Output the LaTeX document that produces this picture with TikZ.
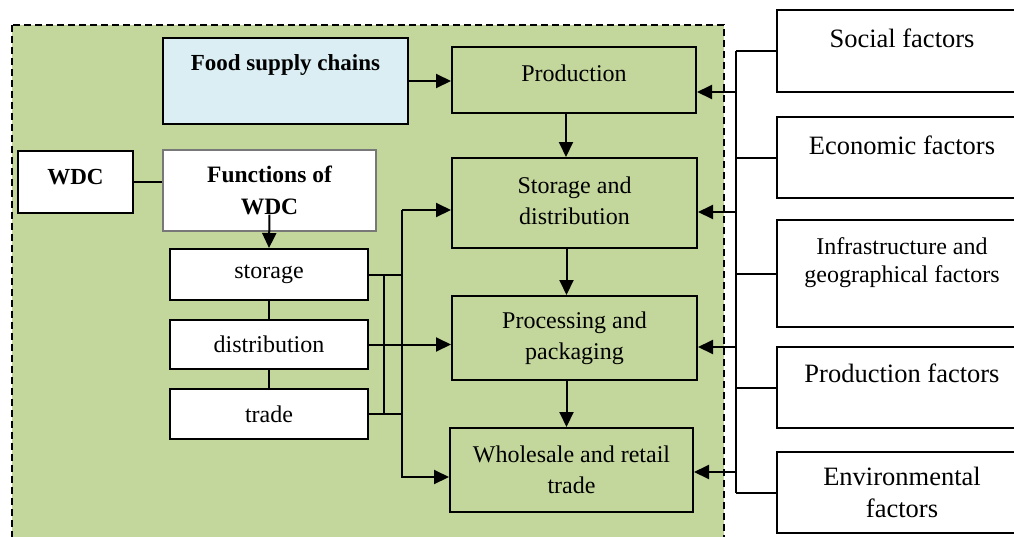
\documentclass[tikz,border=0pt]{standalone}
\usepackage{fontspec}
\setmainfont{Liberation Serif}
\usepackage{xcolor}
\usepackage{tikz}
\usetikzlibrary{shapes,arrows.meta,positioning,calc}
\definecolor{chaingreen}{RGB}{195,214,155}
\definecolor{chainblue}{RGB}{218,238,243}
\definecolor{fnborder}{RGB}{120,120,120}

\begin{document}
\begin{tikzpicture}[x=1pt, y=-1pt,
    gbox/.style={rectangle, draw, line width=2pt, fill=chaingreen, align=center, font=\fontsize{24}{31}\selectfont},
    wbox/.style={rectangle, draw, line width=2pt, fill=white, align=center, font=\fontsize{24}{31}\selectfont},
    fbox/.style={rectangle, draw, line width=2pt, fill=white, align=center, minimum width=250pt, font=\fontsize{26.5}{32}\selectfont},
    lift/.style={text depth=#1},
    link/.style={line width=2pt},
    arr/.style={line width=2pt, -{Triangle[length=15pt,width=14pt]}}]
        \useasboundingbox (0,0) rectangle (1014,536);
        \draw[fill=chaingreen, line width=2pt, dash pattern=on 7pt off 4pt] (12,25) rectangle (724,560);

        % chain of the food supply
        \node[gbox, minimum width=244pt, minimum height=66pt, lift=14pt] (prod) at (574,80) {Production};
        \node[gbox, minimum width=245pt, minimum height=90pt, lift=4pt] (sd) at (574.5,203) {Storage and\\distribution};
        \node[gbox, minimum width=245pt, minimum height=84pt] (pp) at (574.5,338) {Processing and\\packaging};
        \node[gbox, minimum width=243pt, minimum height=84pt] (wr) at (571.5,470) {Wholesale and retail\\trade};

        \node[rectangle, draw, line width=2.8pt, fill=chainblue, minimum width=245pt, minimum height=86pt, lift=36pt, font=\fontsize{23}{28}\selectfont\bfseries] (fsc) at (285.5,81) {Food supply chains};

        % warehouse and distribution centre
        \node[wbox, minimum width=115pt, minimum height=62pt, lift=10pt, font=\fontsize{23}{28}\selectfont\bfseries] (wdc) at (75.5,182) {WDC};
        \node[wbox, draw=fnborder, line width=1.2pt, minimum width=213pt, minimum height=81pt, font=\fontsize{23.5}{32}\selectfont\bfseries] (fn) at (269.5,190.5) {Functions of\\WDC};
        \node[wbox, minimum width=198pt, minimum height=51pt] (st) at (269,274.5) {storage};
        \node[wbox, minimum width=198pt, minimum height=49pt] (di) at (269,344.5) {distribution};
        \node[wbox, minimum width=198pt, minimum height=50pt] (tr) at (269,414) {trade};

        % factors
        \node[fbox, minimum height=82pt, lift=26pt] (soc) at (902,51) {Social factors};
        \node[fbox, minimum height=81pt, lift=25pt] (eco) at (902,157.5) {Economic factors};
        \node[fbox, minimum height=107pt, lift=27pt, font=\fontsize{24}{28}\selectfont] (inf) at (902,273.5) {Infrastructure and\\geographical factors};
        \node[fbox, minimum height=81pt, lift=29pt] (prf) at (902,387.5) {Production factors};
        \node[fbox, minimum height=81pt] (env) at (902,492.5) {Environmental\\factors};

        \coordinate (inbus) at (384,0);
        \coordinate (outbus) at (402,0);
        \coordinate (fbus) at (736,0);

        \draw[arr] (fsc.east) -- (fsc.east -| prod.west);
        \draw[arr] ([xshift=-8pt]prod.south) -- ([xshift=-8pt]prod.south |- sd.north);
        \draw[arr] ([xshift=-8pt]sd.south) -- ([xshift=-8pt]sd.south |- pp.north);
        \draw[arr] ([xshift=-8pt]pp.south) -- ([xshift=-8pt]pp.south |- wr.north);

        \draw[link] (wdc.east) -- (wdc.east -| fn.west);
        \draw[arr] ([yshift=17pt]fn.south) -- (st.north);
        \draw[link] (st) -- (di);
        \draw[link] (di) -- (tr);

        \draw[link] (st.east) -- (st.east -| outbus);
        \draw[link] (tr.east) -- (tr.east -| outbus);
        \draw[link] (st.east -| inbus) -- (tr.east -| inbus);
        \draw[arr] (di.east) -- (di.east -| pp.west);
        \draw[arr] ([yshift=-7pt]sd.west -| outbus) -- ([yshift=-7pt]sd.west);
        \draw[arr] ([yshift=-7pt]sd.west -| outbus) |- ([yshift=-7pt]wr.west);

        \draw[link] (soc.west) -- (soc.west -| fbus);
        \draw[link] (eco.west) -- (eco.west -| fbus);
        \draw[link] (inf.west) -- (inf.west -| fbus);
        \draw[link] (prf.west) -- (prf.west -| fbus);
        \draw[link] (env.west) -- (env.west -| fbus);
        \draw[link] (soc.west -| fbus) -- (env.west -| fbus);
        \draw[arr] ([yshift=-12pt]prod.east -| fbus) -- ([yshift=-12pt]prod.east);
        \draw[arr] ([yshift=-9pt]sd.east -| fbus) -- ([yshift=-9pt]sd.east);
        \draw[arr] ([yshift=-9pt]pp.east -| fbus) -- ([yshift=-9pt]pp.east);
        \draw[arr] ([yshift=-2pt]wr.east -| fbus) -- ([yshift=-2pt]wr.east);
      \end{tikzpicture}
\end{document}
